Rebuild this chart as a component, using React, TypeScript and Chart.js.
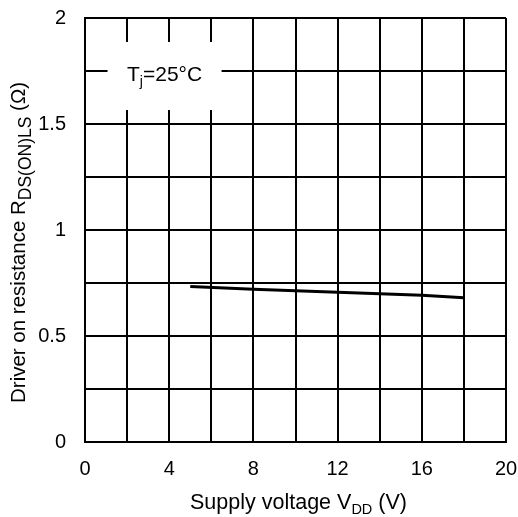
import React, { useEffect, useRef } from "react";
import { Chart, registerables } from "chart.js";

Chart.register(...registerables);

// Supply voltage sweep (V) and measured low-side driver on-resistance (Ω)
const supplyVoltage = [5, 8, 12, 16, 18];
const onResistance = [0.733, 0.72, 0.706, 0.692, 0.68];

// Axis ranges and ticks
const xMin = 0;
const xMax = 20;
const xGridStep = 2;
const xLabelStep = 4;
const yMin = 0;
const yMax = 2;
const yGridStep = 0.25;
const yTickLabels: Record<string, string> = { "0": "0", "0.5": "0.5", "1": "1", "1.5": "1.5", "2": "2" };

const FONT = '"Liberation Sans", Arial, Helvetica, sans-serif';

type Seg = { text: string; sub?: boolean };

const xTitle: Seg[] = [{ text: "Supply voltage V" }, { text: "DD", sub: true }, { text: " (V)" }];
const yTitle: Seg[] = [
  { text: "Driver on resistance R" },
  { text: "DS(ON)LS", sub: true },
  { text: " (Ω)" },
];
const noteText: Seg[] = [{ text: "T" }, { text: "j", sub: true }, { text: "=25°C" }];

const TICK_SIZE = 20;

type Sizes = { main: number; sub: number; drop: number };
const X_TITLE_SIZES: Sizes = { main: 21.5, sub: 14.5, drop: 5 };
const Y_TITLE_SIZES: Sizes = { main: 20.5, sub: 17.5, drop: 6 };
const NOTE_SIZES: Sizes = { main: 21, sub: 14, drop: 5 };

function segWidth(ctx: CanvasRenderingContext2D, segs: Seg[], sz: Sizes) {
  let w = 0;
  for (const s of segs) {
    ctx.font = `${s.sub ? sz.sub : sz.main}px ${FONT}`;
    w += ctx.measureText(s.text).width;
  }
  return w;
}

// Draws text with subscripts, baseline at y = 0; centred on x = 0 or starting there
function drawRich(ctx: CanvasRenderingContext2D, segs: Seg[], sz: Sizes, centred = true) {
  const total = segWidth(ctx, segs, sz);
  let x = centred ? -total / 2 : 0;
  ctx.textBaseline = "alphabetic";
  ctx.textAlign = "left";
  ctx.fillStyle = "#000";
  for (const s of segs) {
    ctx.font = `${s.sub ? sz.sub : sz.main}px ${FONT}`;
    ctx.fillText(s.text, x, s.sub ? sz.drop : 0);
    x += ctx.measureText(s.text).width;
  }
}

const labelsPlugin = {
  id: "richLabels",
  beforeDatasetsDraw(chart: any) {
    const { ctx, scales } = chart;
    const xs = scales.x;
    const ys = scales.y;
    // temperature note, on a white box over the grid
    ctx.save();
    const cx = xs.getPixelForValue(3.78);
    const cy = ys.getPixelForValue(1.75);
    ctx.fillStyle = "#fff";
    ctx.fillRect(cx - 57, cy - 29, 114, 68);
    ctx.translate(cx, cy + 10);
    drawRich(ctx, noteText, NOTE_SIZES);
    ctx.restore();
  },
  afterDraw(chart: any) {
    const { ctx, chartArea } = chart;
    ctx.save();
    ctx.translate((chartArea.left + chartArea.right) / 2 + 3, 509);
    drawRich(ctx, xTitle, X_TITLE_SIZES);
    ctx.restore();

    // vertical title reads bottom to top, starting just above the x labels
    ctx.save();
    ctx.translate(25, chartArea.bottom - 39);
    ctx.rotate(-Math.PI / 2);
    drawRich(ctx, yTitle, Y_TITLE_SIZES, false);
    ctx.restore();
  },
};

export default function App() {
  const canvasRef = useRef<HTMLCanvasElement | null>(null);

  useEffect(() => {
    if (!canvasRef.current) return;
    const chart = new Chart(canvasRef.current, {
      type: "line",
      data: {
        datasets: [
          {
            data: supplyVoltage.map((v, i) => ({ x: v, y: onResistance[i] })),
            borderColor: "#000",
            borderWidth: 3,
            pointRadius: 0,
            tension: 0,
            fill: false,
          },
        ],
      },
      options: {
        responsive: false,
        animation: false,
        devicePixelRatio: 1,
        layout: { padding: { top: 18, right: 12, left: 0, bottom: 0 } },
        plugins: { legend: { display: false }, tooltip: { enabled: false } },
        scales: {
          x: {
            type: "linear",
            min: xMin,
            max: xMax,
            afterFit: (s: any) => {
              s.height = 75;
              s.paddingLeft = 0;
              s.paddingRight = 0;
            },
            border: { color: "#000", width: 2 },
            grid: { color: "#000", lineWidth: 2, drawTicks: false },
            ticks: {
              stepSize: xGridStep,
              color: "#000",
              padding: 15,
              maxRotation: 0,
              autoSkip: false,
              font: { family: FONT, size: TICK_SIZE },
              callback: (v: any) => (Number(v) % xLabelStep === 0 ? String(v) : ""),
            },
          },
          y: {
            type: "linear",
            min: yMin,
            max: yMax,
            afterFit: (s: any) => {
              s.width = 85;
              s.paddingTop = 0;
              s.paddingBottom = 0;
            },
            border: { color: "#000", width: 2 },
            grid: { color: "#000", lineWidth: 2, drawTicks: false },
            ticks: {
              stepSize: yGridStep,
              color: "#000",
              padding: 19,
              autoSkip: false,
              font: { family: FONT, size: TICK_SIZE },
              callback: (v: any) => yTickLabels[String(v)] ?? "",
            },
          },
        },
      },
      plugins: [labelsPlugin],
    });
    return () => chart.destroy();
  }, []);

  return (
    <div style={{ position: "fixed", left: 0, top: 0, width: 518, height: 517, background: "#fff" }}>
      <canvas ref={canvasRef} width={518} height={517} />
    </div>
  );
}
